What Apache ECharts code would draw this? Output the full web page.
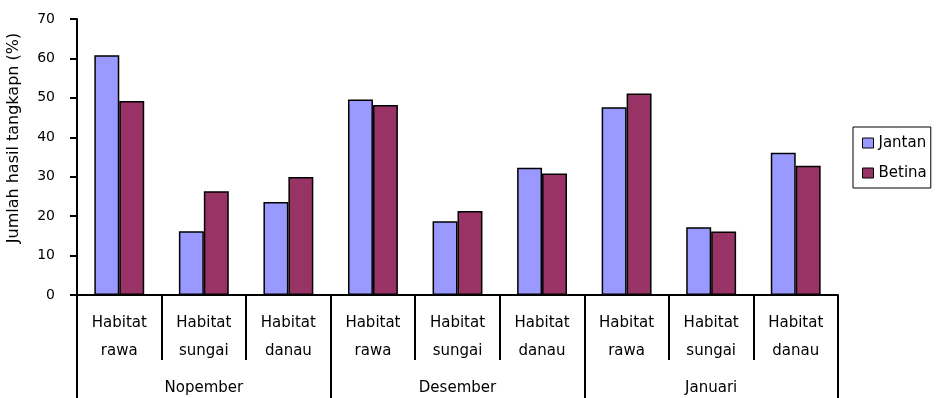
<!DOCTYPE html>
<html>
<head>
<meta charset="utf-8">
<script src="https://cdn.jsdelivr.net/npm/echarts@6/dist/echarts.min.js"></script>
<style>
  html, body { margin: 0; padding: 0; background: #fff; }
  #chart { width: 939px; height: 398px; }
</style>
</head>
<body>
<div id="chart"></div>
<script>
// data
var habitats = ['Habitat\nrawa', 'Habitat\nsungai', 'Habitat\ndanau',
                'Habitat\nrawa', 'Habitat\nsungai', 'Habitat\ndanau',
                'Habitat\nrawa', 'Habitat\nsungai', 'Habitat\ndanau']
var months = ['Nopember', 'Desember', 'Januari']
var jantan = [60.8, 16.2, 23.6, 49.6, 18.7, 32.3, 47.6, 17.2, 36.1]
var betina = [49.2, 26.3, 29.9, 48.2, 21.3, 30.8, 51.1, 16.1, 32.8]
var yMin = 0
var yMax = 70
var yStep = 10

var font = 'DejaVu Sans'
var black = '#000'

var chart = echarts.init(document.getElementById('chart'))
chart.setOption({
  animation: false,
  backgroundColor: '#fff',
  grid: {
    left: 77,
    right: 101,
    top: 19,
    bottom: 103,
    outerBoundsMode: 'none'
  },
  legend: {
    orient: 'vertical',
    left: 853,
    top: 127,
    padding: [7, 4, 6, 9],
    itemGap: 12,
    itemWidth: 11,
    itemHeight: 10,
    itemTextGap: 5,
    borderColor: black,
    borderWidth: 1,
    icon: 'rect',
    itemStyle: { borderColor: black, borderWidth: 1 },
    textStyle: { fontFamily: font, fontSize: 15, color: black, lineHeight: 18 },
    data: ['Jantan', 'Betina']
  },
  graphic: [{
    // y axis title, placed by hand like the original
    type: 'text',
    x: 14,
    y: 138,
    rotation: Math.PI / 2,
    style: {
      text: 'Jumlah hasil tangkapn (%)',
      fontFamily: font,
      fontSize: 16,
      fill: black,
      textAlign: 'center',
      textVerticalAlign: 'middle'
    }
  }],
  xAxis: [{
    type: 'category',
    position: 'bottom',
    data: habitats,
    axisLine: { lineStyle: { color: black, width: 2 } },
    axisTick: { show: true, interval: 0, length: 65, lineStyle: { color: black, width: 2 } },
    axisLabel: {
      interval: 0,
      margin: 14,
      fontFamily: font,
      fontSize: 15,
      lineHeight: 28,
      color: black
    }
  }, {
    // month row under the habitat labels
    type: 'category',
    position: 'bottom',
    data: months,
    axisLine: { show: false },
    axisTick: { show: true, interval: 0, length: 103, lineStyle: { color: black, width: 2 } },
    axisLabel: {
      interval: 0,
      margin: 86,
      fontFamily: font,
      fontSize: 15,
      color: black
    }
  }],
  yAxis: {
    type: 'value',
    min: yMin,
    max: yMax,
    interval: yStep,
    splitLine: { show: false },
    axisLine: { show: true, lineStyle: { color: black, width: 2 } },
    axisTick: { show: true, length: 7, lineStyle: { color: black, width: 2 } },
    axisLabel: { margin: 22, fontFamily: font, fontSize: 14, color: black }
  },
  series: [{
    name: 'Jantan',
    type: 'bar',
    data: jantan,
    barGap: '0%',
    barCategoryGap: '41%',
    itemStyle: { color: '#9999ff', borderColor: black, borderWidth: 1.5 }
  }, {
    name: 'Betina',
    type: 'bar',
    data: betina,
    itemStyle: { color: '#993366', borderColor: black, borderWidth: 1.5 }
  }]
})
</script>
</body>
</html>
